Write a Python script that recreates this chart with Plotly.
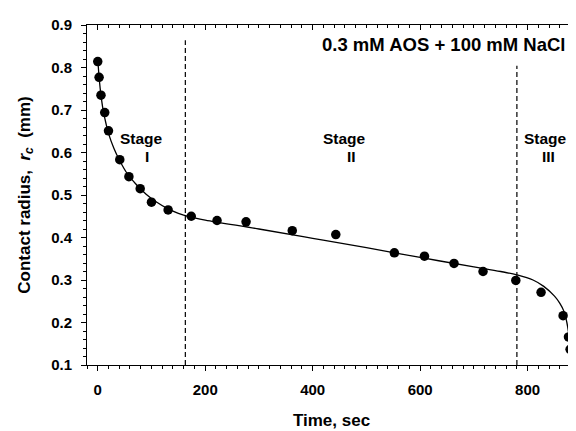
import plotly.graph_objects as go

# measured data
time_s = [0, 2.5, 6, 13, 20, 41, 58, 79, 100, 131, 174, 222, 276, 362, 443,
          552, 608, 663, 717, 778, 825, 866, 876, 879]
radius_mm = [0.814, 0.777, 0.735, 0.694, 0.651, 0.583, 0.543, 0.515, 0.483, 0.465,
             0.450, 0.440, 0.437, 0.416, 0.407, 0.364, 0.356, 0.339, 0.320, 0.299,
             0.271, 0.216, 0.166, 0.137]

# fitted curve
fit_t = [0, 3, 6, 10, 15, 20, 30, 40, 55, 70, 90, 110, 130, 150, 170, 200, 300,
         400, 500, 600, 700, 750, 780, 810, 830, 850, 860, 868, 873, 877, 880]
fit_r = [0.82, 0.77, 0.735, 0.70, 0.67, 0.645, 0.61, 0.583, 0.55, 0.527, 0.502,
         0.483, 0.468, 0.457, 0.449, 0.441, 0.420, 0.398, 0.376, 0.353, 0.331,
         0.320, 0.312, 0.300, 0.285, 0.262, 0.245, 0.225, 0.20, 0.17, 0.14]

# stage boundaries
stage_bounds = [163, 780]
stage_tops = [0.864, 0.804]
stage_labels = ["I", "II", "III"]
stage_word_x = [81, 460, 833]
stage_num_x = [92, 472, 838]

FONT = "Liberation Sans, Arial, sans-serif"

fig = go.Figure()

fig.add_trace(go.Scatter(x=fit_t, y=fit_r, mode="lines", line=dict(color="black", width=1.3, shape="spline"),
                         hoverinfo="skip", showlegend=False))
fig.add_trace(go.Scatter(x=time_s, y=radius_mm, mode="markers",
                         marker=dict(color="black", size=9.5), showlegend=False))
for xb, yt in zip(stage_bounds, stage_tops):
    fig.add_trace(go.Scatter(x=[xb, xb], y=[0.1, yt], mode="lines",
                             line=dict(color="black", width=1.2, dash="5px,3px"),
                             hoverinfo="skip", showlegend=False))
# invisible trace for top mirror axis
fig.add_trace(go.Scatter(x=[0], y=[0.5], xaxis="x2", mode="markers",
                         marker=dict(opacity=0), hoverinfo="skip", showlegend=False))

bold = dict(family=FONT, size=15, color="black", weight="bold")

for lab, wx, nx in zip(stage_labels, stage_word_x, stage_num_x):
    fig.add_annotation(x=wx, y=0.632, text="Stage", showarrow=False, xanchor="center", yanchor="middle",
                       font=dict(family=FONT, size=15.5, color="black", weight="bold"))
    fig.add_annotation(x=nx, y=0.590, text=lab, showarrow=False, xanchor="center", yanchor="middle",
                       font=dict(family=FONT, size=15.5, color="black", weight="bold"))

fig.add_annotation(x=1, xref="paper", y=0.855, text="0.3 mM AOS + 100 mM NaCl", showarrow=False,
                   xanchor="right", yanchor="middle", xshift=-8,
                   font=dict(family=FONT, size=18.5, color="black", weight="bold"))

fig.update_layout(
    width=576, height=431,
    margin=dict(l=79, r=8, t=11, b=74),
    plot_bgcolor="white", paper_bgcolor="white",
    xaxis=dict(range=[-20, 890], tickvals=[0, 200, 400, 600, 800], ticks="outside", ticklen=5,
               tickwidth=1, tickcolor="black", showline=True, linecolor="black", linewidth=1,
               showgrid=False, zeroline=False, tickfont=bold, ticklabelstandoff=6,
               minor=dict(dtick=20, tick0=0, ticks="outside", ticklen=3, tickcolor="black", showgrid=False),
               title=dict(text="Time, sec", font=dict(family=FONT, size=17, color="black", weight="bold"),
                          standoff=17)),
    xaxis2=dict(range=[-20, 890], overlaying="x", side="top", anchor="y", tickvals=[0, 200, 400, 600, 800],
                ticks="inside", ticklen=5, tickcolor="black", showticklabels=False, showline=True,
                linecolor="black", linewidth=1, showgrid=False, zeroline=False,
                minor=dict(dtick=20, tick0=0, ticks="inside", ticklen=3, tickcolor="black", showgrid=False)),
    yaxis=dict(range=[0.1, 0.9], dtick=0.1, tick0=0.1, tickformat=".1f", ticks="outside", ticklen=5,
               tickcolor="black", showline=True, linecolor="black", linewidth=1, showgrid=False,
               zeroline=False, tickfont=bold, ticklabelstandoff=6,
               minor=dict(dtick=0.02, tick0=0.1, ticks="outside", ticklen=3, tickcolor="black", showgrid=False),
               title=dict(text="Contact radius,  <i>r</i><sub><i>c</i></sub>  (mm)",
                          font=dict(family=FONT, size=17, color="black", weight="bold"), standoff=16)),
)

fig.write_html("out.html")
